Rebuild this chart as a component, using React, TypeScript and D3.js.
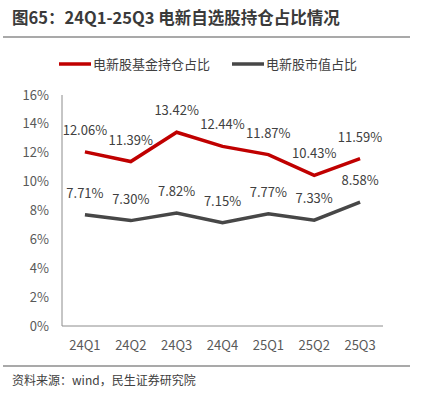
import * as d3 from "d3";

const quarters = ["24Q1", "24Q2", "24Q3", "24Q4", "25Q1", "25Q2", "25Q3"];
const fundShare = [12.06, 11.39, 13.42, 12.44, 11.87, 10.43, 11.59];
const marketShare = [7.71, 7.3, 7.82, 7.15, 7.77, 7.33, 8.58];
const yTicks = [0, 2, 4, 6, 8, 10, 12, 14, 16];

const font = "'Noto Sans CJK SC', 'Noto Sans', sans-serif";

export default function App() {
  const width = 421;
  const height = 399;
  const x = d3.scaleBand<string>().domain(quarters).range([62, 383]);
  const y = d3.scaleLinear().domain([0, 16]).range([326, 95]);
  const line = d3
    .line<number>()
    .x((_, i) => (x(quarters[i]) as number) + x.bandwidth() / 2)
    .y((d) => y(d));

  const series = [
    { name: "电新股基金持仓占比", color: "#C00000", data: fundShare },
    { name: "电新股市值占比", color: "#474747", data: marketShare },
  ];

  return (
    <svg
      width={width}
      height={height}
      style={{ position: "absolute", left: 0, top: 0, background: "#fff" }}
      fontFamily={font}
    >
      <text x={12} y={24} fontSize={16.5} fontWeight="bold" fill="#3a3a3a">
        图65：24Q1-25Q3 电新自选股持仓占比情况
      </text>
      <line x1={3} x2={410} y1={37} y2={37} stroke="#555" strokeWidth={1.2} />

      {series.map((s, i) => {
        const lx = i === 0 ? 59 : 232;
        return (
          <g key={s.name}>
            <line x1={lx} x2={lx + 32} y1={64} y2={64} stroke={s.color} strokeWidth={3.5} />
            <text x={lx + 34} y={69} fontSize={13} fill="#404040">
              {s.name}
            </text>
          </g>
        );
      })}

      {yTicks.map((t) => (
        <text key={t} x={49} y={y(t) + 4.5} fontSize={13} fill="#595959" textAnchor="end">
          {t}%
        </text>
      ))}
      <line x1={62} x2={62} y1={95} y2={326} stroke="#8c8c8c" />
      <line x1={62} x2={383} y1={326} y2={326} stroke="#8c8c8c" />

      {quarters.map((q) => (
        <text
          key={q}
          x={(x(q) as number) + x.bandwidth() / 2}
          y={350}
          fontSize={13}
          fill="#595959"
          textAnchor="middle"
        >
          {q}
        </text>
      ))}

      {series.map((s) => (
        <g key={s.name}>
          <path d={line(s.data) ?? ""} fill="none" stroke={s.color} strokeWidth={3.5} />
          {s.data.map((v, i) => (
            <text
              key={i}
              x={(x(quarters[i]) as number) + x.bandwidth() / 2}
              y={y(v) - 17}
              fontSize={13}
              fill="#404040"
              textAnchor="middle"
            >
              {v.toFixed(2)}%
            </text>
          ))}
        </g>
      ))}

      <line x1={3} x2={410} y1={366} y2={366} stroke="#555" strokeWidth={1.2} />
      <text x={12} y={385} fontSize={12} fill="#404040">
        资料来源：wind，民生证券研究院
      </text>
    </svg>
  );
}
